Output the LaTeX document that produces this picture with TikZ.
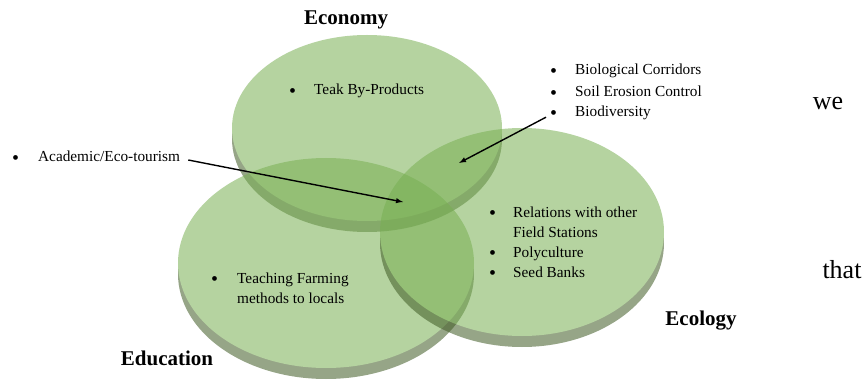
\documentclass[tikz,border=0pt]{standalone}
\usepackage{fontspec}
\setmainfont{Liberation Serif}
\usetikzlibrary{positioning}

\definecolor{diskface}{RGB}{120,175,82}
\definecolor{diskrim}{RGB}{64,91,37}

\tikzset{
	face/.style = {fill = diskface},
	rim/.style = {fill = diskrim},
	title/.style = {font = \fontsize{21}{24}\selectfont\bfseries, inner sep = 0pt},
	items/.style = {font = \fontsize{15.3}{20}\selectfont, inner sep = 0pt, anchor = west, align = left},
	stray/.style = {font = \fontsize{26}{30}\selectfont, inner sep = 0pt}
}

\newcommand{\disk}[3]{%
	\begin{scope}[transparency group, opacity = 0.55]
		\fill [rim] (#1) ++ (0, 11) ellipse [x radius = #2 pt, y radius = #3 pt];
		\fill [face] (#1) ellipse [x radius = #2 pt, y radius = #3 pt];
	\end{scope}}

\newcommand{\itemdot}{\raisebox{-0.3ex}{\scalebox{1.3}{\textbullet}}}

\begin{document}
\begin{tikzpicture}[> = latex, x = 1pt, y = -1pt]

	\useasboundingbox (0, 0) rectangle (865, 390);

	% Disks
	
	\disk{367, 128}{135}{93}
	\disk{326, 263}{148}{105}
	\disk{522, 232}{142}{104}
	
	% Titles
	
	\node [title] (economy) at (346, 20) {Economy};
	\node [title] (ecology) at (701, 321) {Ecology};
	\node [title] (education) at (167, 358) {Education};
	
	% Lists
	
	\node [items] (teak) at (289, 91) {\begin{tabular}{@{}l@{\hspace{18pt}}l@{}}\itemdot & Teak By-Products\end{tabular}};
	\node [items] (tourism) at (12, 158) {\begin{tabular}{@{}l@{\hspace{19pt}}l@{}}\itemdot & Academic/Eco-tourism\end{tabular}};
	\node [items] (corridors) at (550, 92) {\begin{tabular}{@{}l@{\hspace{18pt}}l@{}}\itemdot & Biological Corridors\\[2pt] \itemdot & Soil Erosion Control\\ \itemdot & Biodiversity\end{tabular}};
	\node [items] (relations) at (489, 243.5) {\begin{tabular}{@{}l@{\hspace{17pt}}l@{}}\itemdot & Relations with other\\ & Field Stations\\ \itemdot & Polyculture\\ \itemdot & Seed Banks\end{tabular}};
	\node [items] (teaching) at (211, 289.5) {\begin{tabular}{@{}l@{\hspace{19pt}}l@{}}\itemdot & Teaching Farming\\ & methods to locals\end{tabular}};
	
	% Stray words
	
	\node [stray] (we) at (828, 104) {we};
	\node [stray] (that) at (842, 270) {that};
	
	% Arrows into the overlaps
	
	\coordinate (centre) at (403, 202);
	\coordinate (upper) at (459, 163);
	\draw [line width = 1.4pt, ->] (tourism.east) ++ (8, 2) -- (centre);
	\draw [line width = 1.4pt, ->] (corridors.south west) ++ (-4, -6) -- (upper);
	
\end{tikzpicture}
\end{document}
